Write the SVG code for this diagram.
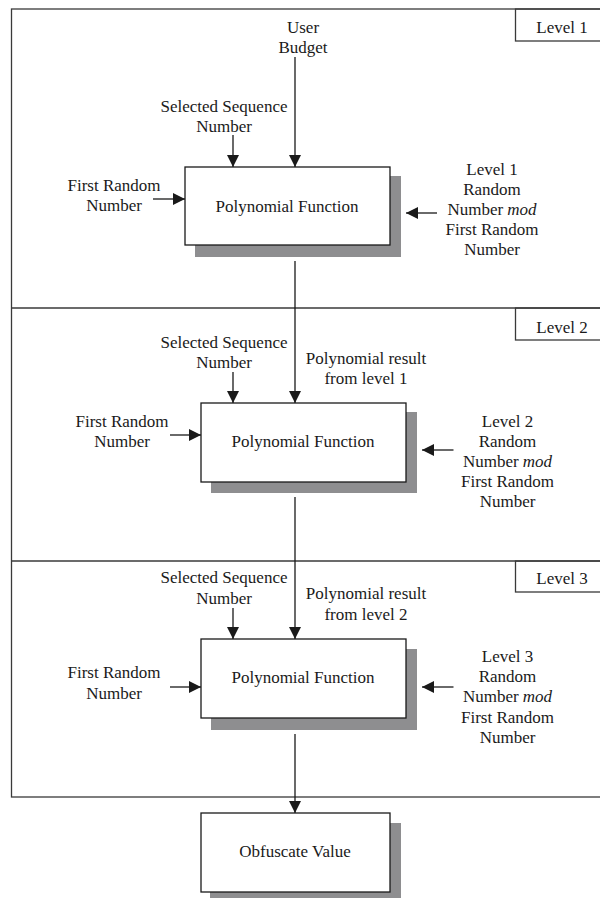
<svg xmlns="http://www.w3.org/2000/svg" width="600" height="900" viewBox="0 0 600 900">
  <style>
    text { font-family: "Liberation Serif", "Times New Roman", serif; font-size: 17px; fill: #1a1a1a; text-anchor: middle; }
    .frame { fill: none; stroke: #3a3a3a; stroke-width: 1.3; }
    .box { fill: #ffffff; stroke: #1a1a1a; stroke-width: 1.3; }
    .shadow { fill: #8e8e90; stroke: none; }
    .wire { fill: none; stroke: #1a1a1a; stroke-width: 1.3; }
    .arrow { fill: none; stroke: #1a1a1a; stroke-width: 1.3; marker-end: url(#head); }
    .it { font-style: italic; }
  </style>
  <defs>
    <marker id="head" markerUnits="userSpaceOnUse" markerWidth="12" markerHeight="12" refX="12" refY="6" orient="auto">
      <path d="M0,0 L12,6 L0,12 z" fill="#1a1a1a"/>
    </marker>
  </defs>

  <rect width="600" height="900" fill="#ffffff"/>

  <!-- level frames -->
  <g id="levels">
    <rect class="frame" x="11.5" y="9" width="600" height="788"/>
    <line class="frame" x1="11.5" y1="308" x2="600" y2="308"/>
    <line class="frame" x1="11.5" y1="561" x2="600" y2="561"/>
  </g>
  <g id="level1-tag">
    <rect class="frame" x="515.5" y="9" width="90" height="32"/>
    <text x="562" y="33">Level 1</text>
  </g>
  <g id="level2-tag">
    <rect class="frame" x="515.5" y="308" width="90" height="32"/>
    <text x="562" y="333">Level 2</text>
  </g>
  <g id="level3-tag">
    <rect class="frame" x="515.5" y="561" width="90" height="31"/>
    <text x="562" y="584">Level 3</text>
  </g>

  <!-- connectors -->
  <g id="connectors">
    <!-- level 1 inputs -->
    <line class="arrow" x1="295" y1="57" x2="295" y2="167"/>
    <line class="arrow" x1="233" y1="135" x2="233" y2="167"/>
    <line class="arrow" x1="153" y1="199" x2="185" y2="199"/>
    <line class="arrow" x1="437" y1="213" x2="406" y2="213"/>
    <!-- level 1 to level 2 -->
    <line class="arrow" x1="295" y1="261" x2="295" y2="403"/>
    <line class="arrow" x1="233" y1="372" x2="233" y2="403"/>
    <line class="arrow" x1="170" y1="435" x2="201" y2="435"/>
    <line class="arrow" x1="453.5" y1="450" x2="422" y2="450"/>
    <!-- level 2 to level 3 -->
    <line class="arrow" x1="295" y1="497" x2="295" y2="639"/>
    <line class="arrow" x1="233" y1="608" x2="233" y2="639"/>
    <line class="arrow" x1="170" y1="687" x2="201" y2="687"/>
    <line class="arrow" x1="453.5" y1="687" x2="422" y2="687"/>
    <!-- level 3 to output -->
    <line class="arrow" x1="295" y1="734" x2="295" y2="813"/>
  </g>

  <!-- level 1 -->
  <g id="user-budget">
    <text x="303" y="33">User</text>
    <text x="303" y="53">Budget</text>
  </g>
  <g id="seq1">
    <text x="224" y="112">Selected Sequence</text>
    <text x="224" y="132">Number</text>
  </g>
  <g id="rand1">
    <text x="114" y="191">First Random</text>
    <text x="114" y="211">Number</text>
  </g>
  <g id="poly1">
    <rect class="shadow" x="195" y="176" width="206" height="81"/>
    <rect class="box" x="185" y="167" width="205" height="78"/>
    <text x="287" y="212">Polynomial Function</text>
  </g>
  <g id="mod1">
    <text x="492" y="175">Level 1</text>
    <text x="492" y="195">Random</text>
    <text x="492" y="215">Number <tspan class="it">mod</tspan></text>
    <text x="492" y="235">First Random</text>
    <text x="492" y="255">Number</text>
  </g>

  <!-- level 2 -->
  <g id="seq2">
    <text x="224" y="348">Selected Sequence</text>
    <text x="224" y="368">Number</text>
  </g>
  <g id="result1">
    <text x="366" y="364">Polynomial result</text>
    <text x="366" y="384">from level 1</text>
  </g>
  <g id="rand2">
    <text x="122" y="427">First Random</text>
    <text x="122" y="447">Number</text>
  </g>
  <g id="poly2">
    <rect class="shadow" x="211" y="412" width="206" height="81"/>
    <rect class="box" x="201" y="403" width="205" height="79"/>
    <text x="303" y="447">Polynomial Function</text>
  </g>
  <g id="mod2">
    <text x="507.5" y="427">Level 2</text>
    <text x="507.5" y="447">Random</text>
    <text x="507.5" y="467">Number <tspan class="it">mod</tspan></text>
    <text x="507.5" y="487">First Random</text>
    <text x="507.5" y="507">Number</text>
  </g>

  <!-- level 3 -->
  <g id="seq3">
    <text x="224" y="583">Selected Sequence</text>
    <text x="224" y="604">Number</text>
  </g>
  <g id="result2">
    <text x="366" y="599">Polynomial result</text>
    <text x="366" y="620">from level 2</text>
  </g>
  <g id="rand3">
    <text x="114" y="678">First Random</text>
    <text x="114" y="699">Number</text>
  </g>
  <g id="poly3">
    <rect class="shadow" x="211" y="649" width="206" height="81"/>
    <rect class="box" x="201" y="639" width="205" height="79"/>
    <text x="303" y="683">Polynomial Function</text>
  </g>
  <g id="mod3">
    <text x="507.5" y="662">Level 3</text>
    <text x="507.5" y="682">Random</text>
    <text x="507.5" y="702">Number <tspan class="it">mod</tspan></text>
    <text x="507.5" y="723">First Random</text>
    <text x="507.5" y="743">Number</text>
  </g>

  <!-- output -->
  <g id="obfuscate">
    <rect class="shadow" x="210" y="823" width="191" height="75"/>
    <rect class="box" x="201" y="813" width="189" height="79"/>
    <text x="295" y="857">Obfuscate Value</text>
  </g>
</svg>
